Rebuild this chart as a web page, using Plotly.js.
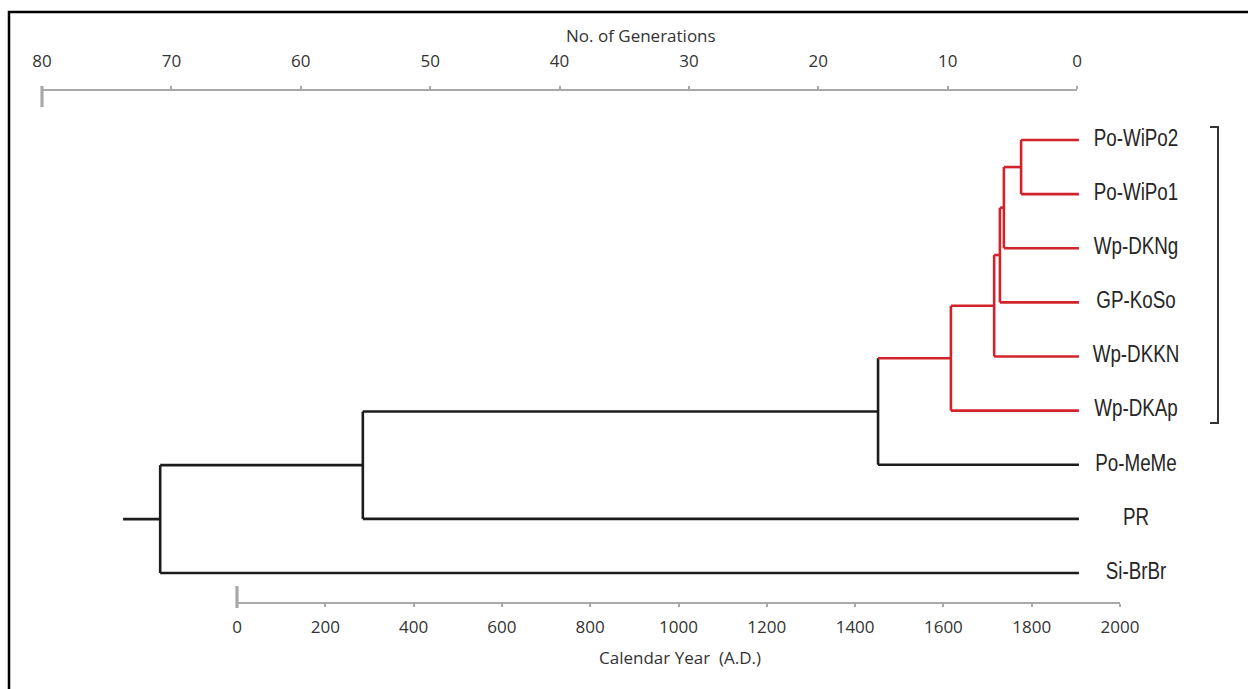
<!DOCTYPE html>
<html><head><meta charset="utf-8">
<script src="https://cdn.plot.ly/plotly-3.0.1.min.js"></script>
<style>html,body{margin:0;padding:0;background:#fff}</style>
</head><body><div id="chart" style="width:1248px;height:689px"></div>
<script>
// ---- data ----
const leaves = ['Po-WiPo2','Po-WiPo1','Wp-DKNg','GP-KoSo','Wp-DKKN','Wp-DKAp','Po-MeMe','PR','Si-BrBr'];
// calendar year (A.D.) of each successive merge: merge k joins leaf k+1 to the cluster of leaves 0..k
const mergeYears = [1776, 1737, 1728, 1715, 1617, 1452, 285, -174];
const redMergeCount = 5;          // merges 0..4 form the red clade
const tipYear = 1907;             // present (0 generations)
const rootYear = -258;            // start of the root stub
const yearTicks = [0,200,400,600,800,1000,1200,1400,1600,1800,2000];
const genTicks = [80,70,60,50,40,30,20,10,0];

// ---- layout geometry ----
const W = 1248, H = 689;
const px = p => p / W;
const py = p => (H - p) / H;
const yearAt = p => (p - 237) * 2000 / 883;          // pixel -> year on the tree axis
const genPx = g => 42 + (80 - g) * (1077 - 42) / 80;  // generation -> pixel on the top scale
const leafTop = 140, leafBottom = 573;
const n = leaves.length;
const step = (leafBottom - leafTop) / (n - 1);
const leafY = i => n - i;                             // Po-WiPo2 at top
const yAtPx = p => 1 + (leafBottom - p) / step;       // pixel -> tree y
const yRange = [yAtPx(H), yAtPx(0)];

// ---- build dendrogram segments ----
const red = {x: [], y: []}, black = {x: [], y: []};
function seg(t, x0, y0, x1, y1) { t.x.push(x0, x1, null); t.y.push(y0, y1, null); }
let cx = tipYear, cy = leafY(0);
for (let k = 0; k < mergeYears.length; k++) {
  const m = mergeYears[k];
  const ly = leafY(k + 1);
  const inRed = k < redMergeCount;
  const stemTarget = (k < redMergeCount + 1) ? red : black;
  seg(stemTarget, cx, cy, m, cy);                  // stem of existing cluster
  seg(inRed ? red : black, tipYear, ly, m, ly);    // new leaf branch
  seg(inRed ? red : black, m, cy, m, ly);          // vertical join
  cx = m; cy = (cy + ly) / 2;
}
seg(black, cx, cy, rootYear, cy);                  // root stub

// emphasised origin ticks of the two scales (year 0, generation 80)
const axisGray = '#a9a9a9';
const origin = {x: [], y: []};
seg(origin, yearTicks[0], yAtPx(586), yearTicks[0], yAtPx(608));
const g80 = yearAt(genPx(genTicks[0]));
seg(origin, g80, yAtPx(86), g80, yAtPx(107));

const lineW = 2.6;
const traces = [
  {x: origin.x, y: origin.y, mode: 'lines', line: {color: axisGray, width: 3.2}, hoverinfo: 'skip', showlegend: false},
  {x: black.x, y: black.y, mode: 'lines', line: {color: '#1c1c1c', width: lineW}, hoverinfo: 'skip', showlegend: false},
  {x: red.x, y: red.y, mode: 'lines', line: {color: '#d3232a', width: lineW}, hoverinfo: 'skip', showlegend: false},
  {x: leaves.map(() => yearAt(1136)), y: leaves.map((_, i) => leafY(i)), mode: 'text', text: leaves,
   textposition: 'middle center',
   textfont: {family: '"Liberation Sans", Arial, sans-serif', size: 23.5, color: '#262626'},
   hoverinfo: 'skip', showlegend: false, cliponaxis: false},
  // anchors for the scale axes (each on its own subplot)
  {x: [], y: [], xaxis: 'x2', yaxis: 'y2', showlegend: false},
  {x: [], y: [], xaxis: 'x3', yaxis: 'y2', showlegend: false}
];

const tickFont = {family: '"Open Sans", Lato, sans-serif', size: 17, color: '#333'};
const layout = {
  width: W, height: H,
  margin: {l: 0, r: 0, t: 0, b: 0},
  paper_bgcolor: '#fff', plot_bgcolor: 'rgba(0,0,0,0)',
  showlegend: false,
  xaxis: {domain: [0, 1], range: [yearAt(0), yearAt(W)], visible: false, fixedrange: true},
  yaxis: {domain: [0, 1], range: yRange, visible: false, fixedrange: true},
  yaxis2: {domain: [0, 1], range: [0, 1], visible: false, fixedrange: true, anchor: 'free', position: 0},
  xaxis2: {domain: [px(237), px(1120)], range: [0, 2000], anchor: 'free', position: py(603),
    side: 'bottom', showline: true, linecolor: axisGray, linewidth: 2, showgrid: false, zeroline: false,
    tickmode: 'array', tickvals: yearTicks, ticktext: yearTicks.map(String), ticks: 'outside', ticklen: 3,
    tickwidth: 2, tickcolor: axisGray, tickfont: tickFont, ticklabelstandoff: 6, automargin: false, fixedrange: true},
  xaxis3: {domain: [px(42), px(1077)], range: [80, 0], anchor: 'free', position: py(90),
    side: 'top', showline: true, linecolor: axisGray, linewidth: 2, showgrid: false, zeroline: false,
    tickmode: 'array', tickvals: genTicks, ticktext: genTicks.map(String), ticks: 'outside', ticklen: 3,
    tickwidth: 2, tickcolor: axisGray, tickfont: tickFont, ticklabelstandoff: 12, automargin: false, fixedrange: true},
  annotations: [
    {text: 'No. of Generations', xref: 'paper', yref: 'paper', x: px(641), y: py(35), showarrow: false,
     xanchor: 'center', yanchor: 'middle', font: {family: '"Open Sans", Lato, sans-serif', size: 17, color: '#333'}},
    {text: 'Calendar Year&nbsp;&nbsp;(A.D.)', xref: 'paper', yref: 'paper', x: px(680), y: py(657), showarrow: false,
     xanchor: 'center', yanchor: 'middle', font: {family: '"Open Sans", Lato, sans-serif', size: 17, color: '#333'}}
  ],
  shapes: [
    {type: 'rect', xref: 'paper', yref: 'paper', x0: px(9), x1: px(1300), y0: py(740), y1: py(12),
     line: {color: '#000', width: 2.5}, fillcolor: 'rgba(0,0,0,0)'},
    {type: 'path', xref: 'paper', yref: 'paper',
     path: `M ${px(1210)},${py(127)} L ${px(1218)},${py(127)} L ${px(1218)},${py(423)} L ${px(1210)},${py(423)}`,
     line: {color: '#333', width: 2}}
  ]
};

Plotly.newPlot('chart', traces, layout, {staticPlot: true, displayModeBar: false}).then(gd => {
  // condense the leaf labels horizontally (narrow typeface look)
  gd.querySelectorAll('.textpoint text').forEach(t => {
    const x = parseFloat(t.getAttribute('x'));
    t.setAttribute('transform', `translate(${x},0) scale(0.8,1) translate(${-x},0)`);
  });
});
</script>
</body></html>
